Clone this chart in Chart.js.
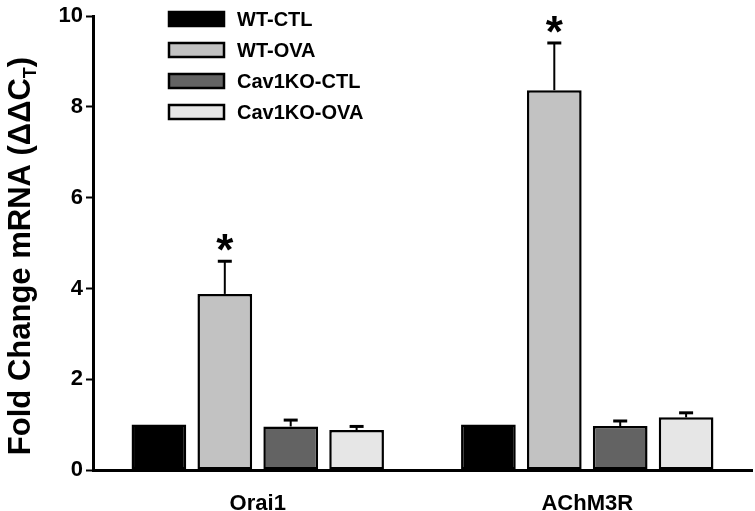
<!DOCTYPE html>
<html>
<head>
<meta charset="utf-8">
<script src="https://cdn.jsdelivr.net/npm/chart.js@4.4.0/dist/chart.umd.min.js"></script>
<style>
  html, body { margin: 0; padding: 0; background: #fff; }
  #chart { display: block; }
</style>
</head>
<body>
<canvas id="chart" width="755" height="511"></canvas>
<script>
const genes = ['Orai1', 'AChM3R'];
const groups = ['WT-CTL', 'WT-OVA', 'Cav1KO-CTL', 'Cav1KO-OVA'];
const groupColors = ['#000000', '#c2c2c2', '#636363', '#e6e6e6'];

const wtCtl = [1.0, 1.0];
const wtOva = [3.88, 8.37];
const koCtl = [0.96, 0.97];
const koOva = [0.88, 1.16];

// upper SEM read off the whiskers (0 = no whisker drawn)
const wtCtlErr = [0, 0];
const wtOvaErr = [0.72, 1.04];
const koCtlErr = [0.14, 0.11];
const koOvaErr = [0.08, 0.1];

// which bars get the significance star
const starMarks = [[false, false], [true, true], [false, false], [false, false]];

const yTicks = [0, 2, 4, 6, 8, 10];

const seriesValues = [wtCtl, wtOva, koCtl, koOva];
const seriesErrs = [wtCtlErr, wtOvaErr, koCtlErr, koOvaErr];

const FONT = '"Liberation Sans", Arial, Helvetica, sans-serif';

const errorBars = {
    id: 'errorBars',
    afterDatasetsDraw(chart) {
        const ctx = chart.ctx;
        const y = chart.scales.y;
        ctx.save();
        ctx.strokeStyle = '#000';
        ctx.fillStyle = '#000';
        chart.data.datasets.forEach((ds, i) => {
            const meta = chart.getDatasetMeta(i);
            meta.data.forEach((bar, j) => {
                const err = seriesErrs[i][j];
                const top = y.getPixelForValue(ds.data[j] + err);
                if (err > 0) {
                    ctx.lineWidth = 2;
                    ctx.beginPath();
                    ctx.moveTo(bar.x, bar.y);
                    ctx.lineTo(bar.x, top);
                    ctx.stroke();
                    ctx.lineWidth = 3;
                    ctx.beginPath();
                    ctx.moveTo(bar.x - 7, top);
                    ctx.lineTo(bar.x + 7, top);
                    ctx.stroke();
                }
                if (starMarks[i][j]) {
                    ctx.font = 'bold 44px ' + FONT;
                    ctx.textAlign = 'center';
                    ctx.textBaseline = 'alphabetic';
                    ctx.fillText('*', bar.x, top + 4);
                }
            });
        });
        ctx.restore();
    }
};

const boxLegend = {
    id: 'boxLegend',
    afterDraw(chart) {
        const ctx = chart.ctx;
        ctx.save();
        chart.data.datasets.forEach((ds, i) => {
            const cy = 19 + i * 31;
            ctx.fillStyle = ds.backgroundColor;
            ctx.fillRect(169, cy - 7, 55, 14);
            ctx.lineWidth = 2.5;
            ctx.strokeStyle = '#000';
            ctx.strokeRect(169, cy - 7, 55, 14);
            ctx.fillStyle = '#000';
            ctx.font = 'bold 20px ' + FONT;
            ctx.textAlign = 'left';
            ctx.textBaseline = 'middle';
            ctx.fillText(ds.label, 237, cy + 1);
        });
        ctx.restore();
    }
};

const yTitle = {
    id: 'yTitle',
    afterDraw(chart) {
        const ctx = chart.ctx;
        ctx.save();
        ctx.translate(30, 256);
        ctx.rotate(-Math.PI / 2);
        ctx.fillStyle = '#000';
        ctx.textBaseline = 'alphabetic';
        const main = 'Fold Change mRNA (\u0394\u0394C';
        const big = 'bold 31px ' + FONT;
        const small = 'bold 18px ' + FONT;
        ctx.font = big;
        const w1 = ctx.measureText(main).width;
        const w3 = ctx.measureText(')').width;
        ctx.font = small;
        const w2 = ctx.measureText('T').width;
        let x = -(w1 + w2 + w3) / 2;
        ctx.font = big;
        ctx.fillText(main, x, 0);
        x += w1;
        ctx.font = small;
        ctx.fillText('T', x, 6);
        x += w2;
        ctx.font = big;
        ctx.fillText(')', x, 0);
        ctx.restore();
    }
};

const ctx = document.getElementById('chart').getContext('2d');
new Chart(ctx, {
    type: 'bar',
    data: {
        labels: genes,
        datasets: groups.map((name, i) => ({
            label: name,
            data: seriesValues[i],
            backgroundColor: groupColors[i],
            borderColor: '#000',
            borderWidth: 2.5,
            borderSkipped: false,
            categoryPercentage: 0.8,
            barPercentage: 0.83
        }))
    },
    options: {
        responsive: false,
        animation: false,
        devicePixelRatio: 1,
        layout: { padding: { top: 9, right: 3, bottom: 0, left: 0 } },
        plugins: {
            legend: { display: false },
            tooltip: { enabled: false },
            title: { display: false }
        },
        scales: {
            x: {
                grid: { display: false },
                border: { display: true, color: '#000', width: 3 },
                ticks: {
                    color: '#000',
                    padding: 13,
                    font: { family: FONT, size: 22, weight: 'bold' }
                },
                afterFit: scale => { scale.height = 41; }
            },
            y: {
                min: 0,
                max: 10,
                afterBuildTicks: scale => { scale.ticks = yTicks.map(v => ({ value: v })); },
                grid: {
                    drawOnChartArea: false,
                    drawTicks: true,
                    tickLength: 7,
                    tickWidth: 2,
                    tickColor: '#000'
                },
                border: { display: true, color: '#000', width: 3 },
                ticks: {
                    color: '#000',
                    padding: 3,
                    font: { family: FONT, size: 22, weight: 'bold' }
                },
                afterFit: scale => { scale.width = 93; }
            }
        }
    },
    plugins: [errorBars, boxLegend, yTitle]
});
</script>
</body>
</html>
